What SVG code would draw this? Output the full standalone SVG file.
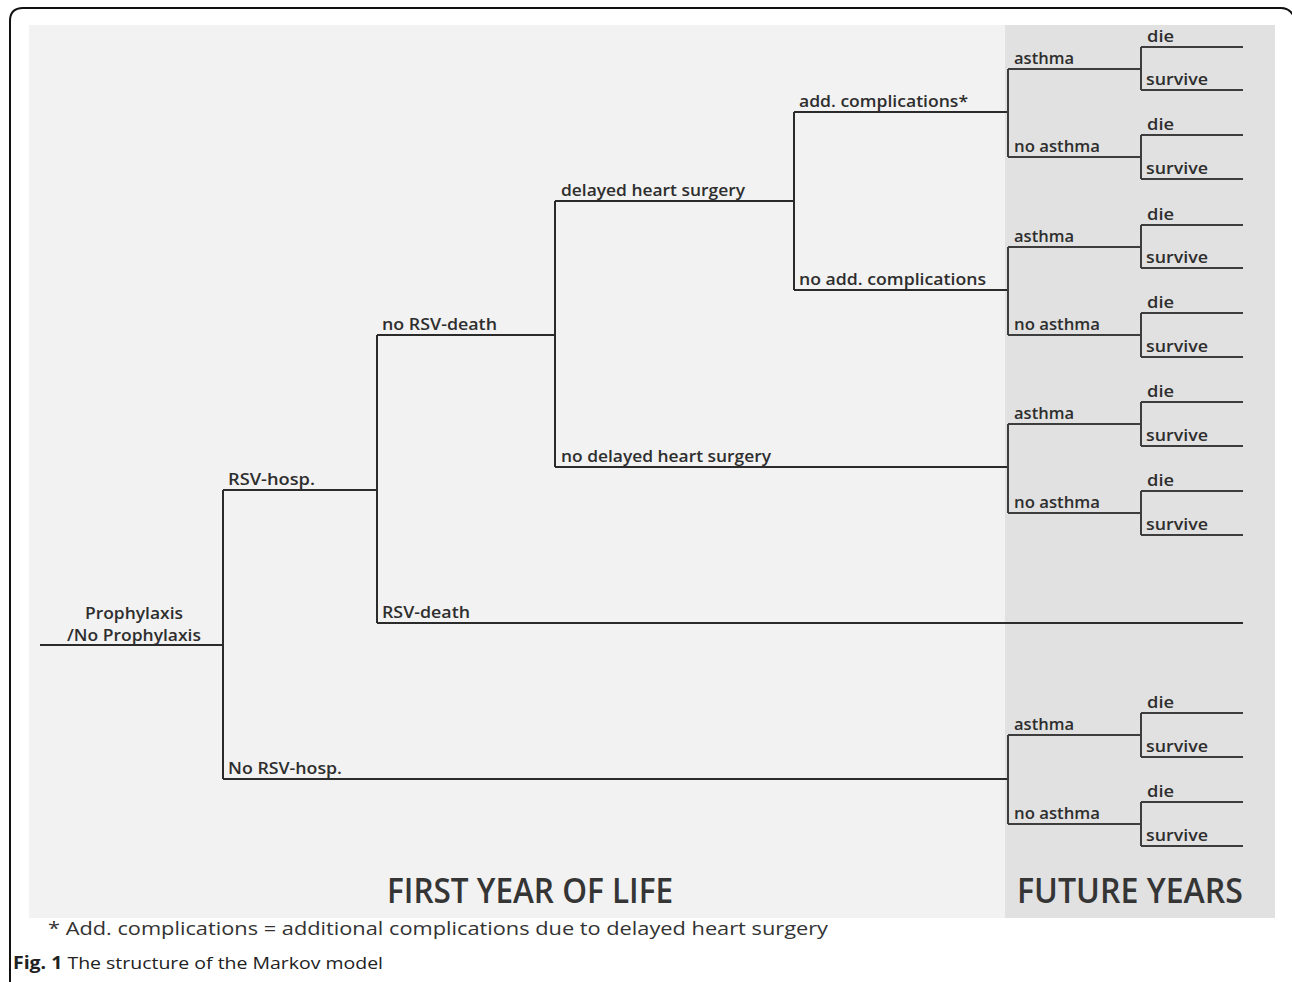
<svg xmlns="http://www.w3.org/2000/svg" width="1292" height="982" viewBox="0 0 1292 982">
<style>
.lbl{font-family:"Open Sans","DejaVu Sans",sans-serif;font-weight:600;font-size:16px;fill:#2e2e2e}
.big{font-family:"Open Sans","DejaVu Sans",sans-serif;font-weight:600;font-size:35px;fill:#353535}
.note{font-family:"Open Sans","DejaVu Sans",sans-serif;font-size:18px;fill:#333}
.cap{font-family:"Open Sans","DejaVu Sans",sans-serif;font-size:17px;fill:#222}
.ln{fill:none;stroke:#2b2b2b;stroke-width:2}
.ln2{fill:none;stroke:#3d3d3d;stroke-width:2}
</style>
<rect x="0" y="0" width="1292" height="982" fill="#ffffff"/>
<path d="M10,982 V21 Q10,8 23,8 H1281 Q1290,8 1294,17" fill="none" stroke="#111" stroke-width="2"/>
<rect x="29" y="25" width="976" height="893" fill="#f2f2f2"/>
<rect x="1005" y="25" width="270" height="893" fill="#e1e1e1"/>

<g id="connectors">
<path class="ln" d="M40,645 H223 M223,490 V779 M223,490 H377 M223,779 H1008 M377,335 V623 M377,623 H1243 M377,335 H555 M555,201 V467 M555,201 H794 M555,467 H1008 M794,112 V290 M794,112 H1008 M794,290 H1008"/>
<path class="ln2" d="M1008,69 V157 M1008,69 H1141 M1008,157 H1141 M1141,47 V90 M1141,47 H1243 M1141,90 H1243 M1141,135 V179 M1141,135 H1243 M1141,179 H1243"/>
<path class="ln2" d="M1008,247 V335 M1008,247 H1141 M1008,335 H1141 M1141,225 V268 M1141,225 H1243 M1141,268 H1243 M1141,313 V357 M1141,313 H1243 M1141,357 H1243"/>
<path class="ln2" d="M1008,424 V513 M1008,424 H1141 M1008,513 H1141 M1141,402 V446 M1141,402 H1243 M1141,446 H1243 M1141,491 V535 M1141,491 H1243 M1141,535 H1243"/>
<path class="ln2" d="M1008,735 V824 M1008,735 H1141 M1008,824 H1141 M1141,713 V757 M1141,713 H1243 M1141,757 H1243 M1141,802 V846 M1141,802 H1243 M1141,846 H1243"/>
</g>

<g id="root"><text class="lbl" x="134" y="619" text-anchor="middle" textLength="98" lengthAdjust="spacingAndGlyphs">Prophylaxis</text><text class="lbl" x="134" y="641" text-anchor="middle" textLength="134" lengthAdjust="spacingAndGlyphs">/No Prophylaxis</text></g>
<g id="rsv-hosp"><text class="lbl" x="228" y="485" textLength="87" lengthAdjust="spacingAndGlyphs">RSV-hosp.</text></g>
<g id="no-rsv-hosp"><text class="lbl" x="228" y="774" textLength="114" lengthAdjust="spacingAndGlyphs">No RSV-hosp.</text></g>
<g id="no-rsv-death"><text class="lbl" x="382" y="330" textLength="115" lengthAdjust="spacingAndGlyphs">no RSV-death</text></g>
<g id="rsv-death"><text class="lbl" x="382" y="618" textLength="88" lengthAdjust="spacingAndGlyphs">RSV-death</text></g>
<g id="delayed"><text class="lbl" x="561" y="196" textLength="184" lengthAdjust="spacingAndGlyphs">delayed heart surgery</text></g>
<g id="no-delayed"><text class="lbl" x="561" y="462" textLength="210" lengthAdjust="spacingAndGlyphs">no delayed heart surgery</text></g>
<g id="add-compl"><text class="lbl" x="799" y="107" textLength="169" lengthAdjust="spacingAndGlyphs">add. complications*</text></g>
<g id="no-add-compl"><text class="lbl" x="799" y="285" textLength="187" lengthAdjust="spacingAndGlyphs">no add. complications</text></g>

<g id="sub1">
<text class="lbl" x="1014" y="64" textLength="60" lengthAdjust="spacingAndGlyphs">asthma</text>
<text class="lbl" x="1014" y="152" textLength="86" lengthAdjust="spacingAndGlyphs">no asthma</text>
<text class="lbl" x="1147" y="42" textLength="27" lengthAdjust="spacingAndGlyphs">die</text>
<text class="lbl" x="1146" y="85" textLength="62" lengthAdjust="spacingAndGlyphs">survive</text>
<text class="lbl" x="1147" y="130" textLength="27" lengthAdjust="spacingAndGlyphs">die</text>
<text class="lbl" x="1146" y="174" textLength="62" lengthAdjust="spacingAndGlyphs">survive</text>
</g>
<g id="sub2">
<text class="lbl" x="1014" y="242" textLength="60" lengthAdjust="spacingAndGlyphs">asthma</text>
<text class="lbl" x="1014" y="330" textLength="86" lengthAdjust="spacingAndGlyphs">no asthma</text>
<text class="lbl" x="1147" y="220" textLength="27" lengthAdjust="spacingAndGlyphs">die</text>
<text class="lbl" x="1146" y="263" textLength="62" lengthAdjust="spacingAndGlyphs">survive</text>
<text class="lbl" x="1147" y="308" textLength="27" lengthAdjust="spacingAndGlyphs">die</text>
<text class="lbl" x="1146" y="352" textLength="62" lengthAdjust="spacingAndGlyphs">survive</text>
</g>
<g id="sub3">
<text class="lbl" x="1014" y="419" textLength="60" lengthAdjust="spacingAndGlyphs">asthma</text>
<text class="lbl" x="1014" y="508" textLength="86" lengthAdjust="spacingAndGlyphs">no asthma</text>
<text class="lbl" x="1147" y="397" textLength="27" lengthAdjust="spacingAndGlyphs">die</text>
<text class="lbl" x="1146" y="441" textLength="62" lengthAdjust="spacingAndGlyphs">survive</text>
<text class="lbl" x="1147" y="486" textLength="27" lengthAdjust="spacingAndGlyphs">die</text>
<text class="lbl" x="1146" y="530" textLength="62" lengthAdjust="spacingAndGlyphs">survive</text>
</g>
<g id="sub4">
<text class="lbl" x="1014" y="730" textLength="60" lengthAdjust="spacingAndGlyphs">asthma</text>
<text class="lbl" x="1014" y="819" textLength="86" lengthAdjust="spacingAndGlyphs">no asthma</text>
<text class="lbl" x="1147" y="708" textLength="27" lengthAdjust="spacingAndGlyphs">die</text>
<text class="lbl" x="1146" y="752" textLength="62" lengthAdjust="spacingAndGlyphs">survive</text>
<text class="lbl" x="1147" y="797" textLength="27" lengthAdjust="spacingAndGlyphs">die</text>
<text class="lbl" x="1146" y="841" textLength="62" lengthAdjust="spacingAndGlyphs">survive</text>
</g>

<g id="titles">
<text class="big" x="387" y="903" textLength="286" lengthAdjust="spacingAndGlyphs">FIRST YEAR OF LIFE</text>
<text class="big" x="1017" y="903" textLength="226" lengthAdjust="spacingAndGlyphs">FUTURE YEARS</text>
</g>
<text class="note" x="48" y="935" textLength="780" lengthAdjust="spacingAndGlyphs">* Add. complications = additional complications due to delayed heart surgery</text>
<text class="cap" x="13" y="969" textLength="370" lengthAdjust="spacingAndGlyphs"><tspan font-weight="700">Fig. 1</tspan> The structure of the Markov model</text>
</svg>
